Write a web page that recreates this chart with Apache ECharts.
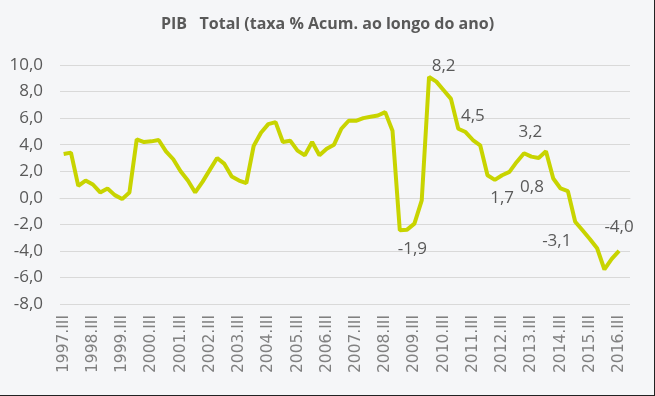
<!DOCTYPE html>
<html>
<head>
<meta charset="utf-8">
<script src="https://cdn.jsdelivr.net/npm/echarts@6/dist/echarts.min.js"></script>
<style>
html,body{margin:0;padding:0;background:#f5f6f8;}
#wrap{position:relative;width:655px;height:396px;}
#chart{width:655px;height:396px;}
#frame{position:absolute;left:0;top:0;width:655px;height:396px;box-sizing:border-box;border-right:1px solid #222;border-bottom:1px solid #222;pointer-events:none;}
</style>
</head>
<body>
<div id="wrap"><div id="chart"></div><div id="frame"></div></div>
<script>
// Quarterly series 1997.III .. 2016.III
const quarters = ['I','II','III','IV'];
const categories = [];
(function(){
  let y = 1997, q = 2;
  while (!(y === 2016 && q === 3)) {
    categories.push(y + '.' + quarters[q]);
    q++; if (q === 4) { q = 0; y++; }
  }
  categories.push('2016.III');
})();

const values = [
  3.3, 3.4, 0.9, 1.3, 1.0, 0.4, 0.7, 0.2, -0.1, 0.4,
  4.4, 4.2, 4.25, 4.35, 3.5, 2.9, 2.0, 1.3, 0.4, 1.2,
  2.1, 3.0, 2.55, 1.6, 1.3, 1.1, 3.9, 4.9, 5.55, 5.7,
  4.2, 4.3, 3.55, 3.2, 4.2, 3.2, 3.7, 4.0, 5.2, 5.8,
  5.8, 6.0, 6.1, 6.2, 6.45, 5.05, -2.45, -2.4, -1.95, -0.2,
  9.1, 8.75, 8.1, 7.45, 5.2, 4.95, 4.35, 3.95, 1.7, 1.35,
  1.7, 1.95, 2.7, 3.35, 3.1, 3.0, 3.5, 1.45, 0.7, 0.5,
  -1.8, -2.45, -3.1, -3.8, -5.4, -4.6, -4.0
];

// Annotation texts attached to data points (index -> text, label offset)
const annotIndex  = [48, 52, 56, 60, 63, 64, 72, 76];
const annotText   = ['-1,9', '8,2', '4,5', '1,7', '0,8', '3,2', '-3,1', '-4,0'];
const annotOffset = [[-2,25],[0,-24],[0,-24],[0,23],[8,34],[-1,-24],[-33,2],[0,-24]];

const yTicks = [-8, -6, -4, -2, 0, 2, 4, 6, 8, 10];

const seriesData = values.map(function(v, i){
  const k = annotIndex.indexOf(i);
  if (k < 0) return v;
  return {
    value: v,
    label: {
      show: true,
      position: 'inside',
      offset: annotOffset[k],
      formatter: annotText[k],
      color: '#595959',
      fontSize: 17,
      fontFamily: 'Open Sans'
    }
  };
});

const chart = echarts.init(document.getElementById('chart'), null, {renderer: 'canvas'});
chart.setOption({
  backgroundColor: '#f5f6f8',
  animation: false,
  title: {
    text: 'PIB   Total (taxa % Acum. ao longo do ano)',
    left: 'center',
    top: 11,
    textStyle: {
      color: '#595959',
      fontSize: 16,
      fontWeight: 'bold',
      fontFamily: '"Liberation Sans Narrow", "Open Sans", sans-serif'
    }
  },
  grid: { left: 60, right: 25, top: 65, bottom: 92 },
  xAxis: {
    type: 'category',
    data: categories,
    boundaryGap: true,
    axisLine: { show: true, lineStyle: { color: '#d9d9d9', width: 1 } },
    axisTick: { show: false },
    axisLabel: {
      interval: 3,
      rotate: 90,
      margin: 11,
      color: '#808080',
      fontSize: 15.5,
      fontFamily: '"DejaVu Sans"'
    },
    splitLine: { show: false }
  },
  yAxis: {
    type: 'value',
    min: yTicks[0],
    max: yTicks[yTicks.length - 1],
    interval: 2,
    axisLine: { show: false },
    axisTick: { show: false },
    axisLabel: {
      margin: 17,
      color: '#595959',
      fontSize: 17,
      fontFamily: 'Open Sans',
      formatter: function(v){ return v.toFixed(1).replace('.', ','); }
    },
    splitLine: { lineStyle: { color: '#d9d9d9', width: 1 } }
  },
  series: [{
    type: 'line',
    data: seriesData,
    symbol: 'circle',
    symbolSize: 1,
    showSymbol: true,
    itemStyle: { color: 'rgba(0,0,0,0)' },
    lineStyle: { color: '#c8d400', width: 4 },
    label: { show: false },
    emphasis: { disabled: true }
  }]
});
</script>
</body>
</html>
